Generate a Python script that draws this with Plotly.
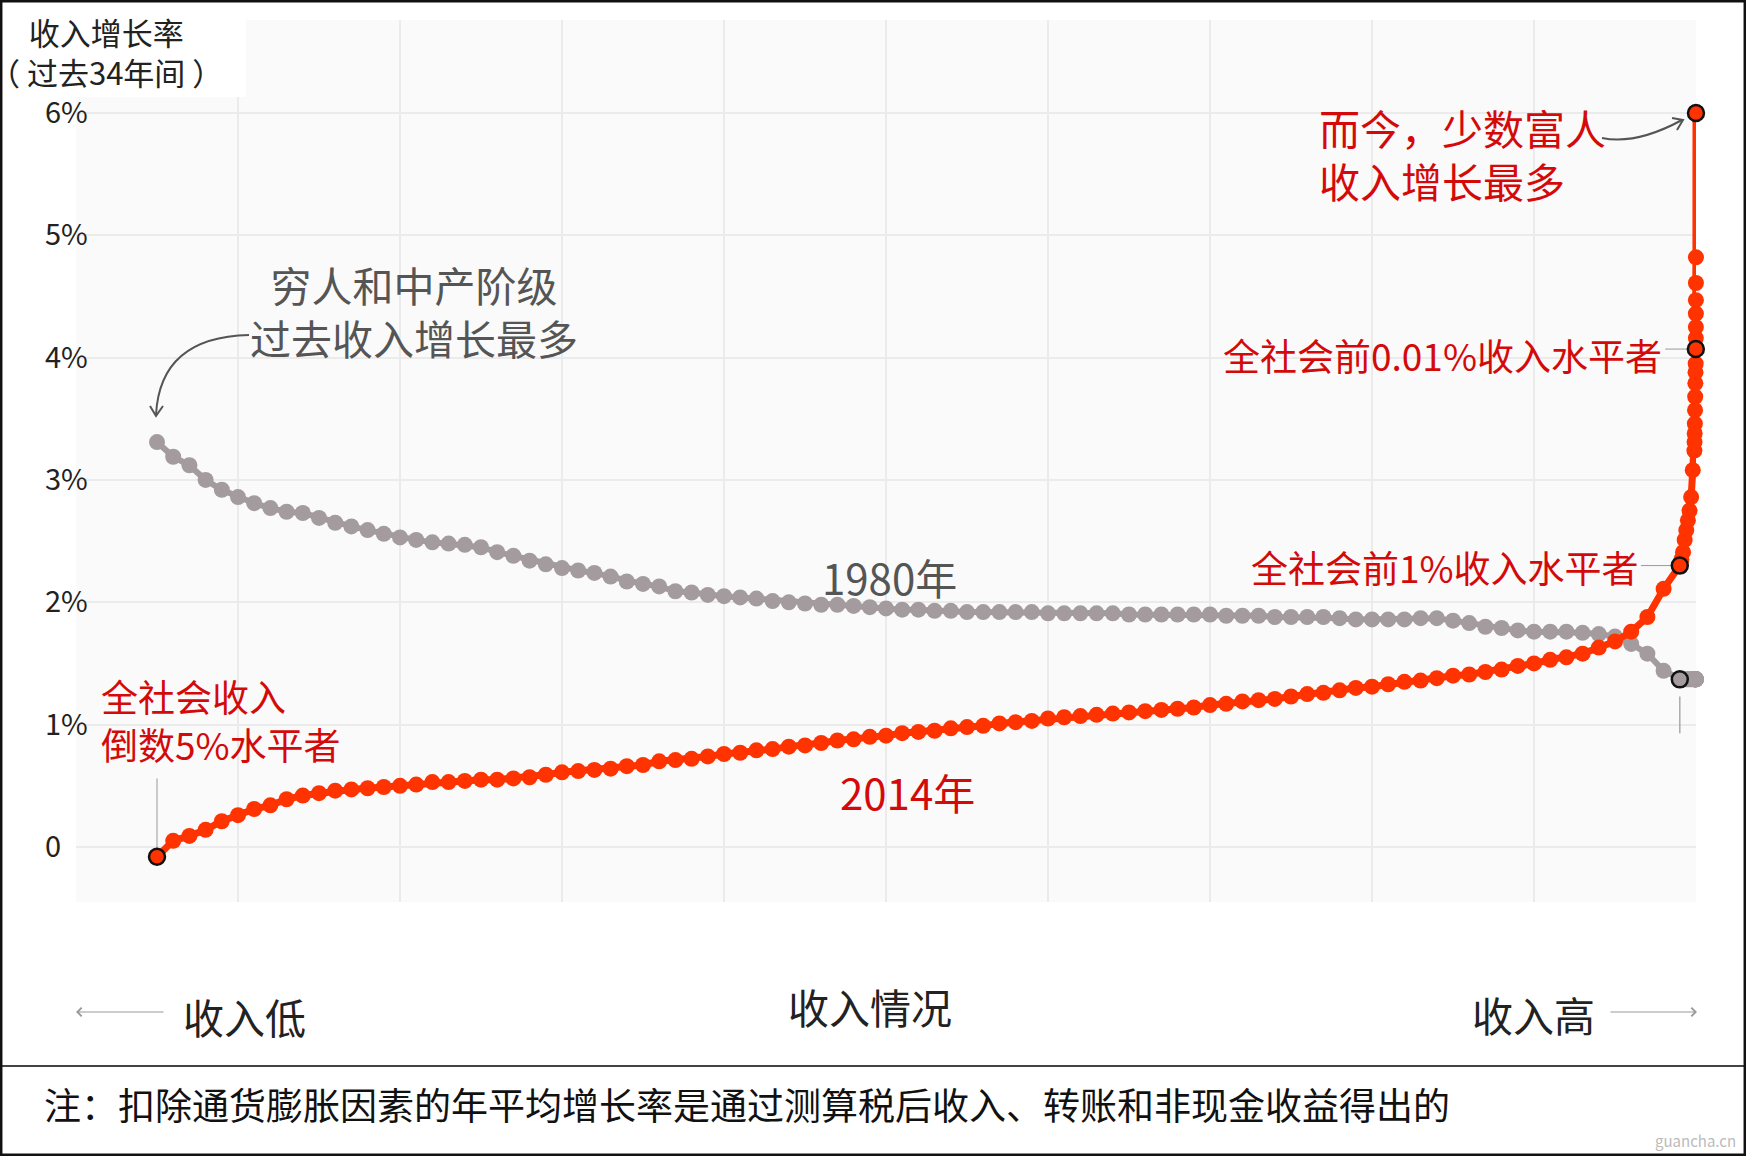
import plotly.graph_objects as go

# percentile positions: p5..p99, then the top 1% split finer
pct = list(range(5, 100)) + [
    99.1, 99.2, 99.3, 99.4, 99.5, 99.6, 99.7, 99.8, 99.9,
    99.91, 99.92, 99.93, 99.94, 99.95, 99.96, 99.97, 99.98, 99.99,
    99.991, 99.992, 99.993, 99.994, 99.995, 99.996, 99.999,
]

# 1980 annual income growth (%)
growth_1980 = [
    3.31, 3.19, 3.12, 3.00, 2.92, 2.86, 2.81, 2.77, 2.74, 2.73,
    2.69, 2.65, 2.62, 2.59, 2.56, 2.53, 2.51, 2.49, 2.48, 2.47,
    2.45, 2.41, 2.38, 2.34, 2.31, 2.28, 2.26, 2.24, 2.21, 2.17,
    2.15, 2.13, 2.09, 2.08, 2.06, 2.05, 2.04, 2.03, 2.01, 2.00,
    1.99, 1.98, 1.98, 1.97, 1.96, 1.95, 1.94, 1.94, 1.93, 1.93,
    1.92, 1.92, 1.92, 1.92, 1.92, 1.91, 1.91, 1.91, 1.91, 1.91,
    1.90, 1.90, 1.90, 1.90, 1.90, 1.90, 1.89, 1.89, 1.89, 1.88,
    1.88, 1.88, 1.88, 1.87, 1.86, 1.86, 1.86, 1.86, 1.87, 1.87,
    1.85, 1.83, 1.80, 1.79, 1.77, 1.76, 1.76, 1.76, 1.75, 1.74,
    1.72, 1.66, 1.58, 1.44, 1.37,
    1.37, 1.37, 1.37, 1.37, 1.37, 1.37, 1.37, 1.37, 1.37,
    1.37, 1.37, 1.37, 1.37, 1.37, 1.37, 1.37, 1.37, 1.37,
    1.37, 1.37, 1.37, 1.37, 1.37, 1.37, 1.37,
]

# 2014 annual income growth (%)
growth_2014 = [
    -0.08, 0.05, 0.09, 0.14, 0.21, 0.26, 0.31, 0.34, 0.39, 0.42,
    0.44, 0.46, 0.47, 0.48, 0.49, 0.50, 0.51, 0.53, 0.53, 0.54,
    0.55, 0.55, 0.56, 0.57, 0.59, 0.61, 0.62, 0.63, 0.64, 0.66,
    0.67, 0.70, 0.71, 0.72, 0.74, 0.76, 0.77, 0.79, 0.80, 0.82,
    0.83, 0.85, 0.87, 0.88, 0.90, 0.91, 0.93, 0.94, 0.95, 0.97,
    0.98, 0.99, 1.01, 1.02, 1.03, 1.05, 1.06, 1.07, 1.08, 1.09,
    1.10, 1.11, 1.12, 1.13, 1.14, 1.16, 1.17, 1.19, 1.20, 1.21,
    1.23, 1.25, 1.26, 1.28, 1.30, 1.31, 1.33, 1.35, 1.36, 1.38,
    1.40, 1.41, 1.43, 1.45, 1.48, 1.50, 1.53, 1.55, 1.58, 1.63,
    1.68, 1.76, 1.88, 2.11, 2.30,
    2.35, 2.41, 2.51, 2.59, 2.67, 2.75, 2.86, 3.08, 3.24,
    3.31, 3.38, 3.46, 3.57, 3.68, 3.79, 3.88, 3.95, 4.07,
    4.16, 4.25, 4.36, 4.47, 4.61, 4.82, 6.00,
]

ytick_vals = [0, 1, 2, 3, 4, 5, 6]
ytick_text = ["0", "1%", "2%", "3%", "4%", "5%", "6%"]
xgrid_vals = [0, 10, 20, 30, 40, 50, 60, 70, 80, 90, 100]

# highlighted points (black ring)
hl_red = [5, 99, 99.99, 99.999]
hl_gray = [99]

FONT = "Noto Sans CJK SC"
RED = "#ff3300"
RED_TXT = "#d40a0a"
GRAY = "#a39b9e"
GRAY_TXT = "#555555"

W, H = 1746, 1156
ML, MR, MT, MB = 76, 50, 20, 254
PW, PH = W - ML - MR, H - MT - MB


def px(X):
    return (X - ML) / PW


def py(Y):
    return 1 - (Y - MT) / PH


fig = go.Figure()

fig.add_trace(go.Scatter(
    x=pct, y=growth_1980, mode="lines+markers", name="1980",
    line=dict(color=GRAY, width=6), marker=dict(size=16, color=GRAY),
    cliponaxis=False, hoverinfo="skip"))
fig.add_trace(go.Scatter(
    x=pct, y=growth_2014, mode="lines+markers", name="2014",
    line=dict(color=RED, width=7), marker=dict(size=16, color=RED),
    cliponaxis=False, hoverinfo="skip"))

# black-ringed markers
fig.add_trace(go.Scatter(
    x=hl_gray, y=[growth_1980[pct.index(p)] for p in hl_gray], mode="markers",
    marker=dict(size=16, color=GRAY, line=dict(color="#111", width=2.5)),
    cliponaxis=False, hoverinfo="skip"))
fig.add_trace(go.Scatter(
    x=hl_red, y=[growth_2014[pct.index(p)] for p in hl_red], mode="markers",
    marker=dict(size=16, color=RED, line=dict(color="#111", width=2.5)),
    cliponaxis=False, hoverinfo="skip"))


def note(text, X, Y, size, color, xanchor="center", align="center"):
    return dict(text=text, x=px(X), y=py(Y), xref="paper", yref="paper",
                xanchor=xanchor, yanchor="middle", align=align, showarrow=False,
                font=dict(family=FONT, size=size, color=color))


annotations = [
    note("收入增长率<br>（ 过去34年间 ）", 106, 51, 31, "#222"),
    note("穷人和中产阶级<br>过去收入增长最多", 414, 310, 41, GRAY_TXT),
    note("而今，少数富人<br>收入增长最多", 1317, 154, 41, RED_TXT, "left", "left"),
    note("全社会前0.01%收入水平者", 1664, 355, 37, RED_TXT, "right"),
    note("全社会前1%收入水平者", 1641, 567, 37, RED_TXT, "right"),
    note("全社会收入<br>倒数5%水平者", 99, 720, 37, RED_TXT, "left", "left"),
    note("1980年", 889, 576, 42, GRAY_TXT),
    note("2014年", 907, 791, 42, RED_TXT),
    note("收入低", 244, 1016, 41, "#222"),
    note("收入情况", 870, 1006, 41, "#222"),
    note("收入高", 1533, 1014, 41, "#222"),
    note("注：扣除通货膨胀因素的年平均增长率是通过测算税后收入、转账和非现金收益得出的",
         42, 1104, 37, "#111", "left", "left"),
    note("guancha.cn", 1738, 1140, 15, "#bbbbbb", "right"),
]

# axis-end arrows
for X, ax in [(76, 89), (1697, -88)]:
    annotations.append(dict(
        x=px(X), y=py(1012), xref="paper", yref="paper", text="",
        showarrow=True, ax=ax, ay=0, arrowhead=4, arrowsize=1.4,
        arrowwidth=1.2, arrowcolor="#999"))


def path(points, curve=False):
    pts = [f"{px(X):.5f},{py(Y):.5f}" for X, Y in points]
    if curve:
        return f"M{pts[0]} Q{pts[1]} {pts[2]}"
    return "M" + " L".join(pts)


shapes = [
    # white patch behind the y title
    dict(type="rect", xref="paper", yref="paper", x0=px(70), x1=px(246),
         y0=py(97), y1=py(18), fillcolor="white", line=dict(width=0), layer="above"),
    # curved arrows
    dict(type="path", xref="paper", yref="paper",
         path=path([(249, 335), (160, 337), (156, 415)], curve=True),
         line=dict(color=GRAY_TXT, width=2)),
    dict(type="path", xref="paper", yref="paper",
         path=path([(150, 406), (156, 416), (163, 406)]),
         line=dict(color=GRAY_TXT, width=2)),
    dict(type="path", xref="paper", yref="paper",
         path=path([(1602, 138), (1636, 145), (1682, 120)], curve=True),
         line=dict(color=GRAY_TXT, width=2)),
    dict(type="path", xref="paper", yref="paper",
         path=path([(1672, 118), (1683, 120), (1677, 130)]),
         line=dict(color=GRAY_TXT, width=2)),
    # leader lines
    dict(type="line", x0=5, x1=5, y0=0.56, y1=-0.05,
         line=dict(color="#999", width=1), layer="between"),
    dict(type="line", x0=99, x1=99, y0=1.23, y1=0.93,
         line=dict(color="#aaa", width=1.5), layer="between"),
    dict(type="line", x0=98.1, x1=99.99, y0=4.07, y1=4.07,
         line=dict(color="#999", width=1), layer="between"),
    dict(type="line", x0=96.6, x1=99, y0=2.30, y1=2.30,
         line=dict(color="#999", width=1), layer="between"),
    # footer separator and outer border
    dict(type="line", xref="paper", yref="paper", x0=px(0), x1=px(W),
         y0=py(1066), y1=py(1066), line=dict(color="#444", width=2)),
    dict(type="rect", xref="paper", yref="paper", x0=px(1.2), x1=px(W - 1.2),
         y0=py(H - 1.2), y1=py(1.2), line=dict(color="#111", width=2.5)),
]

fig.update_layout(
    width=W, height=H,
    margin=dict(l=ML, r=MR, t=MT, b=MB, autoexpand=False),
    paper_bgcolor="white", plot_bgcolor="#fafafa",
    showlegend=False,
    font=dict(family=FONT, color="#222"),
    annotations=annotations, shapes=shapes,
    xaxis=dict(range=[0, 100], tickvals=xgrid_vals, showticklabels=False,
               showgrid=True, gridcolor="#ebebeb", gridwidth=1.5,
               zeroline=False, showline=False, ticks="", automargin=False),
    yaxis=dict(range=[-0.45, 6.76], tickvals=ytick_vals, ticktext=ytick_text,
               showgrid=True, gridcolor="#ebebeb", gridwidth=1.5,
               zeroline=False, showline=False, ticks="", automargin=False,
               ticklabelposition="inside", ticklabelstandoff=-34,
               ticklabeloverflow="allow",
               tickfont=dict(family=FONT, size=29, color="#222")),
)

fig.write_html(
    "out.html", config={"displayModeBar": False},
    post_script="document.body.style.margin='0';document.body.style.overflow='hidden';")
